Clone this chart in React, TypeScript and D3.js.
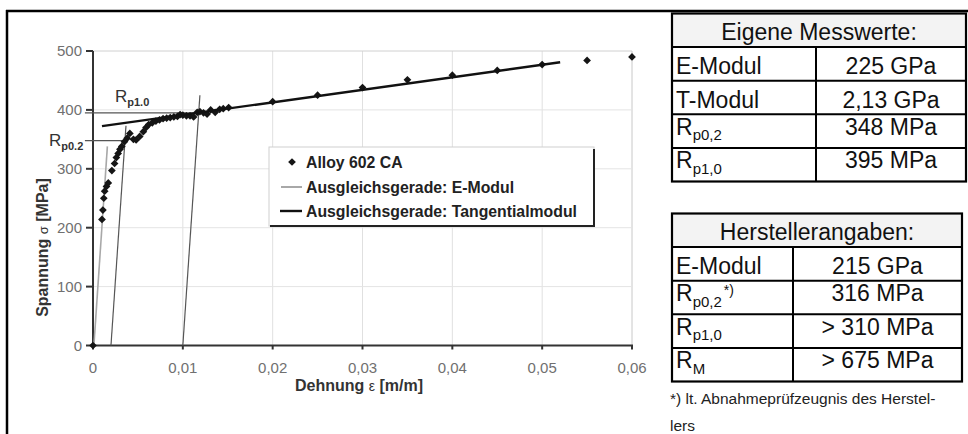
import React from "react";
import * as d3 from "d3";

// ---------- data ----------
const strain = [
  0, 0.001, 0.0011, 0.0012, 0.0013, 0.0015, 0.0017, 0.0021, 0.0024, 0.0026, 0.0028,
  0.003, 0.0032, 0.0035, 0.0038, 0.0041, 0.0045, 0.0048, 0.0052, 0.0056, 0.0059,
  0.0062, 0.0066, 0.007, 0.0074, 0.0078, 0.0082, 0.0086, 0.009, 0.0094, 0.0097,
  0.01, 0.0104, 0.0108, 0.0112, 0.0116, 0.0119, 0.0123, 0.0127, 0.0131, 0.0136,
  0.0141, 0.0145, 0.0151, 0.02, 0.025, 0.03, 0.035, 0.04, 0.045, 0.05, 0.055, 0.06,
];
const stress = [
  0, 214, 230, 250, 262, 270, 276, 297, 309, 319, 326,
  333, 338, 346, 352, 360, 350, 349, 355, 363, 370,
  375, 378, 381, 383, 385, 386, 387, 388, 389, 392,
  391, 390, 390, 388, 396, 397, 395, 393, 400, 396,
  401, 402, 404, 414, 425, 438, 451, 459, 467, 477, 484, 490,
];

const eModulLine: [number, number][] = [[0.0001, 0], [0.0016, 338]];
const offset02Line: [number, number][] = [[0.002, 0], [0.00367, 373]];
const offset10Line: [number, number][] = [[0.01, 0], [0.0119, 425]];
const tangentLine: [number, number][] = [[0.001, 372.4], [0.052, 481]];
const rp02Line: [number, number][] = [[-0.0009, 348], [0.00355, 348]];
const rp10Line: [number, number][] = [[-0.0009, 395], [0.0118, 395]];

const xTicks = [0, 0.01, 0.02, 0.03, 0.04, 0.05, 0.06];
const xTickLabels = ["0", "0,01", "0,02", "0,03", "0,04", "0,05", "0,06"];
const yTicks = [0, 100, 200, 300, 400, 500];

const legendLabels = [
  "Alloy 602 CA",
  "Ausgleichsgerade: E-Modul",
  "Ausgleichsgerade: Tangentialmodul",
];

const ownTitle = "Eigene Messwerte:";
const ownLabelMain = ["E-Modul", "T-Modul", "R", "R"];
const ownLabelSub = ["", "", "p0,2", "p1,0"];
const ownValues = ["225 GPa", "2,13 GPa", "348 MPa", "395 MPa"];

const mfrTitle = "Herstellerangaben:";
const mfrLabelMain = ["E-Modul", "R", "R", "R"];
const mfrLabelSub = ["", "p0,2", "p1,0", "M"];
const mfrLabelSup = ["", "*)", "", ""];
const mfrValues = ["215 GPa", "316 MPa", "> 310 MPa", "> 675 MPa"];

const footnote1 = "*) lt. Abnahmeprüfzeugnis des Herstel-";
const footnote2 = "lers";

// ---------- chart ----------
const FONT = "Arial, 'Liberation Sans', Helvetica, sans-serif";

function Table({
  x0, x1, colX, top, rowH, title, mains, subs, sups, values,
}: {
  x0: number; x1: number; colX: number; top: number; rowH: number; title: string;
  mains: string[]; subs: string[]; sups: string[]; values: string[];
}) {
  const n = mains.length + 1;
  const bottom = top + rowH * n;
  const fs = 23;
  return (
    <g>
      <rect x={x0} y={top} width={x1 - x0} height={rowH} fill="#f3f3f3" />
      <text x={(x0 + x1) / 2} y={top + 26} fontSize={fs} textAnchor="middle" fill="#111">
        {title}
      </text>
      {mains.map((m, i) => {
        const rt = top + rowH * (i + 1);
        const by = rt + (subs[i] ? 20.5 : 27);
        return (
          <g key={i}>
            <line x1={x0} x2={x1} y1={rt} y2={rt} stroke="#000" strokeWidth={2} />
            <text x={x0 + 4} y={by} fontSize={fs} fill="#111">
              {m}
              {subs[i] ? (
                <tspan fontSize={15} dy={5.5}>{subs[i]}</tspan>
              ) : null}
              {sups[i] ? (
                <tspan fontSize={14} dy={-12} dx={2}>{sups[i]}</tspan>
              ) : null}
            </text>
            <text x={(colX + x1) / 2} y={by} fontSize={fs} textAnchor="middle" fill="#111">
              {values[i]}
            </text>
          </g>
        );
      })}
      <line x1={colX} x2={colX} y1={top + rowH} y2={bottom} stroke="#000" strokeWidth={2} />
      <rect x={x0} y={top} width={x1 - x0} height={bottom - top} fill="none" stroke="#000" strokeWidth={2.2} />
    </g>
  );
}

export default function App() {
  const x = d3.scaleLinear().domain([0, 0.06]).range([93, 632]);
  const y = d3.scaleLinear().domain([0, 500]).range([345.5, 51]);
  const line = d3
    .line<[number, number]>()
    .x((d) => x(d[0]))
    .y((d) => y(d[1]));
  const diamond = d3.symbol().type(d3.symbolSquare).size(30)() as string;

  const legX = 269, legY = 147, legW = 325, legH = 79;
  const legRows = [162, 187, 211];

  return (
    <svg
      width={968}
      height={434}
      style={{ position: "absolute", left: 0, top: 0, background: "#fff" }}
      fontFamily={FONT}
    >
      <rect x={0} y={0} width={968} height={434} fill="#fff" />
      {/* frame */}
      <line x1={7} y1={10} x2={7} y2={434} stroke="#000" strokeWidth={2.5} />
      <line x1={6} y1={11} x2={968} y2={11} stroke="#000" strokeWidth={2.5} />

      {/* gridlines */}
      {xTicks.slice(1).map((t) => (
        <line key={"gx" + t} x1={x(t)} x2={x(t)} y1={y(0)} y2={y(500)} stroke={t === 0.06 ? "#c8c8c8" : "#e0e0e0"} strokeWidth={1} />
      ))}
      {yTicks.slice(1).map((t) => (
        <line key={"gy" + t} x1={x(0)} x2={x(0.06)} y1={y(t)} y2={y(t)} stroke={t === 500 ? "#d0d0d0" : "#e4e4e4"} strokeWidth={1} />
      ))}

      {/* axes */}
      <line x1={x(0)} x2={x(0)} y1={y(0) + 1} y2={y(500)} stroke="#333" strokeWidth={2} />
      <line x1={x(0)} x2={x(0.06) + 1} y1={y(0)} y2={y(0)} stroke="#333" strokeWidth={2} />
      {yTicks.map((t) => (
        <g key={"ty" + t}>
          <line x1={x(0) - 7} x2={x(0)} y1={y(t)} y2={y(t)} stroke="#333" strokeWidth={2} />
          <text x={82} y={y(t) + 5} fontSize={15} textAnchor="end" fill="#707070">
            {t}
          </text>
        </g>
      ))}
      {xTicks.map((t, i) => (
        <g key={"tx" + t}>
          <line x1={x(t)} x2={x(t)} y1={y(0)} y2={y(0) + 4} stroke="#333" strokeWidth={2} />
          <text x={x(t)} y={373} fontSize={15} textAnchor="middle" fill="#707070">
            {xTickLabels[i]}
          </text>
        </g>
      ))}

      {/* axis titles */}
      <text x={359} y={391} fontSize={16} fontWeight="bold" textAnchor="middle" fill="#333">
        Dehnung <tspan fontWeight="normal" fontSize={14}>ε</tspan> [m/m]
      </text>
      <text
        transform="translate(48,247.5) rotate(-90)"
        fontSize={16}
        fontWeight="bold"
        textAnchor="middle"
        fill="#333"
      >
        Spannung{"  "}
        <tspan fontWeight="normal" fontSize={13}>σ</tspan>
        {"  "}[MPa]
      </text>

      {/* fit / offset lines */}
      <path d={line(rp02Line) || ""} stroke="#555" strokeWidth={1.3} fill="none" />
      <path d={line(rp10Line) || ""} stroke="#555" strokeWidth={1.3} fill="none" />
      <path d={line(eModulLine) || ""} stroke="#a8a8a8" strokeWidth={1.6} fill="none" />
      <path d={line(offset02Line) || ""} stroke="#555" strokeWidth={1.2} fill="none" />
      <path d={line(offset10Line) || ""} stroke="#555" strokeWidth={1.2} fill="none" />

      {/* data points */}
      {strain.map((s, i) => (
        <path
          key={"p" + i}
          d={diamond}
          transform={`translate(${x(s)},${y(stress[i])}) rotate(45)`}
          fill="#151515"
        />
      ))}

      <path d={line(tangentLine) || ""} stroke="#111" strokeWidth={2.4} fill="none" />

      {/* Rp labels */}
      <text x={115} y={101.5} fontSize={17} fill="#333">
        R<tspan fontSize={11} fontWeight="bold" dy={4}>p1.0</tspan>
      </text>
      <text x={49} y={146} fontSize={17} fill="#333">
        R<tspan fontSize={11} fontWeight="bold" dy={4}>p0.2</tspan>
      </text>

      {/* legend */}
      <rect x={legX} y={legY} width={legW} height={legH} fill="#fff" stroke="#cfcfcf" strokeWidth={1} />
      <line x1={legX + legW} x2={legX + legW} y1={legY + 2} y2={legY + legH + 1} stroke="#222" strokeWidth={2} />
      <line x1={legX + 1} x2={legX + legW + 1} y1={legY + legH} y2={legY + legH} stroke="#222" strokeWidth={2} />
      <path d={diamond} transform={`translate(292,${legRows[0]}) rotate(45)`} fill="#151515" />
      <line x1={281} x2={302} y1={legRows[1]} y2={legRows[1]} stroke="#a8a8a8" strokeWidth={2} />
      <line x1={280} x2={302} y1={legRows[2]} y2={legRows[2]} stroke="#111" strokeWidth={2.4} />
      {legendLabels.map((l, i) => (
        <text key={l} x={306} y={legRows[i] + 5.5} fontSize={15.8} fontWeight="bold" fill="#222">
          {l}
        </text>
      ))}

      {/* tables */}
      <Table
        x0={672} x1={966} colX={816} top={13.5} rowH={33.6}
        title={ownTitle} mains={ownLabelMain} subs={ownLabelSub} sups={["", "", "", ""]} values={ownValues}
      />
      <Table
        x0={672} x1={962} colX={793} top={213.5} rowH={33.6}
        title={mfrTitle} mains={mfrLabelMain} subs={mfrLabelSub} sups={mfrLabelSup} values={mfrValues}
      />
      <text x={670} y={403.5} fontSize={15.5} fill="#222">
        {footnote1}
      </text>
      <text x={670} y={430.5} fontSize={15.5} fill="#222">
        {footnote2}
      </text>
    </svg>
  );
}
